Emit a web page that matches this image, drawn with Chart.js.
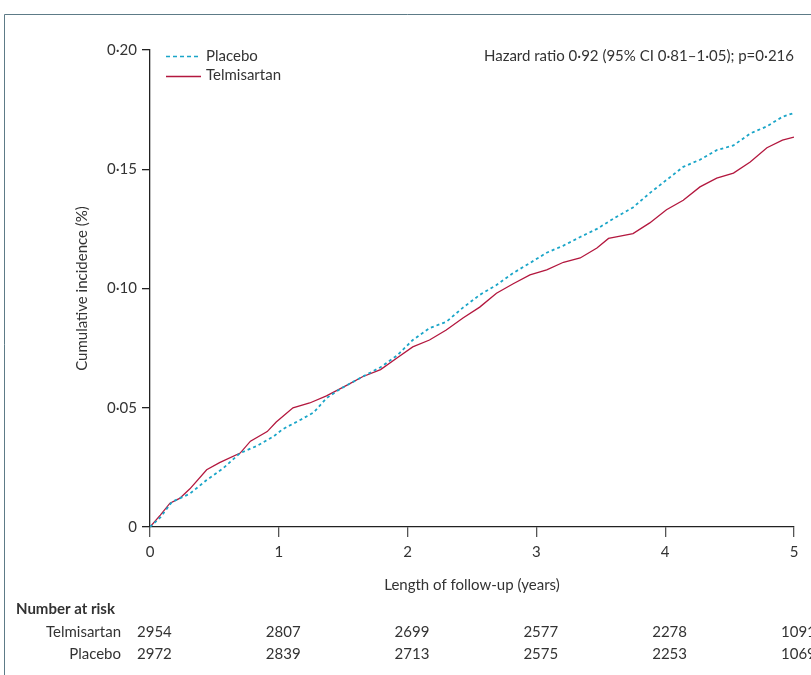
<!DOCTYPE html>
<html>
<head>
<meta charset="utf-8">
<script src="https://cdn.jsdelivr.net/npm/chart.js@4.4.0/dist/chart.umd.min.js"></script>
<style>
  html, body { margin: 0; padding: 0; background: #fff; }
  #wrap { width: 811px; height: 675px; }
</style>
</head>
<body>
<div id="wrap"><canvas id="chartCanvas"></canvas></div>
<script>
// Values
var telmiTimes = [0, 0.08, 0.155, 0.23, 0.31, 0.44, 0.54, 0.70, 0.78, 0.91, 0.98, 1.11, 1.24, 1.37, 1.53, 1.65, 1.79, 1.92, 2.04, 2.17, 2.30, 2.43, 2.56, 2.69, 2.82, 2.95, 3.08, 3.21, 3.34, 3.47, 3.56, 3.62, 3.75, 3.88, 4.01, 4.14, 4.27, 4.40, 4.53, 4.66, 4.79, 4.91, 5.0];
var telmiValues = [0, 0.005, 0.010, 0.012, 0.016, 0.024, 0.027, 0.031, 0.036, 0.040, 0.044, 0.050, 0.052, 0.055, 0.0595, 0.063, 0.066, 0.071, 0.0755, 0.0784, 0.0826, 0.0876, 0.0922, 0.098, 0.102, 0.1057, 0.1078, 0.111, 0.1128, 0.117, 0.121, 0.1216, 0.123, 0.1275, 0.133, 0.137, 0.1426, 0.1463, 0.1484, 0.153, 0.159, 0.1622, 0.1635];

var placeboTimes = [0, 0.08, 0.17, 0.31, 0.44, 0.57, 0.70, 0.83, 0.96, 1.03, 1.17, 1.27, 1.37, 1.48, 1.65, 1.79, 1.92, 2.04, 2.17, 2.30, 2.43, 2.56, 2.69, 2.82, 2.95, 3.08, 3.21, 3.34, 3.47, 3.62, 3.75, 3.88, 4.01, 4.14, 4.27, 4.40, 4.53, 4.66, 4.79, 4.91, 5.0];
var placeboValues = [0, 0.004, 0.0105, 0.014, 0.0197, 0.0247, 0.031, 0.034, 0.038, 0.041, 0.045, 0.048, 0.054, 0.058, 0.063, 0.067, 0.072, 0.0784, 0.0834, 0.086, 0.092, 0.0973, 0.1015, 0.1065, 0.1107, 0.115, 0.118, 0.1216, 0.125, 0.130, 0.134, 0.140, 0.1455, 0.151, 0.154, 0.158, 0.160, 0.165, 0.168, 0.172, 0.1736];

var riskYears = [0, 1, 2, 3, 4, 5];
var riskTelmisartan = [2954, 2807, 2699, 2577, 2278, 1091];
var riskPlacebo = [2972, 2839, 2713, 2575, 2253, 1069];

var hazardText = "Hazard ratio 0\u00b792 (95% CI 0\u00b781\u20131\u00b705); p=0\u00b7216";
var xTitle = "Length of follow-up (years)";
var yTitle = "Cumulative incidence (%)";

var FONT = "Lato, 'Open Sans', sans-serif";
var FS = 15;
var TEXT = "#333";
var CYAN = "#1aa5c8";
var RED = "#b3173e";

function toPoints(xs, ys) {
  var pts = [];
  for (var i = 0; i < xs.length; i++) pts.push({ x: xs[i], y: ys[i] });
  return pts;
}

// Frame, titles, legend, hazard ratio and number-at-risk table
var extras = {
  id: "extras",
  afterDraw: function(chart) {
    var ctx = chart.ctx;
    var xs = chart.scales.x;
    var area = chart.chartArea;
    ctx.save();

    // outer frame (top and left)
    ctx.strokeStyle = "#5d7b87";
    ctx.lineWidth = 1;
    ctx.beginPath();
    ctx.moveTo(4.5, 675);
    ctx.lineTo(4.5, 14.5);
    ctx.lineTo(811, 14.5);
    ctx.stroke();

    // legend
    ctx.lineWidth = 1.5;
    ctx.strokeStyle = CYAN;
    ctx.setLineDash([4, 3]);
    ctx.beginPath();
    ctx.moveTo(166, 56.5);
    ctx.lineTo(201, 56.5);
    ctx.stroke();
    ctx.setLineDash([]);
    ctx.strokeStyle = RED;
    ctx.beginPath();
    ctx.moveTo(166, 76.5);
    ctx.lineTo(201, 76.5);
    ctx.stroke();

    ctx.fillStyle = TEXT;
    ctx.font = FS + "px " + FONT;
    ctx.textBaseline = "middle";
    ctx.textAlign = "left";
    ctx.fillText("Placebo", 206, 56);
    ctx.fillText("Telmisartan", 206, 75);

    ctx.textAlign = "right";
    ctx.fillText(hazardText, 794, 56);

    // axis titles
    ctx.textAlign = "center";
    ctx.fillText(xTitle, 472, 585);
    ctx.save();
    ctx.translate(82, (area.top + area.bottom) / 2);
    ctx.rotate(-Math.PI / 2);
    ctx.fillText(yTitle, 0, 0);
    ctx.restore();

    // number at risk
    ctx.textAlign = "left";
    ctx.font = "bold " + FS + "px " + FONT;
    ctx.fillText("Number at risk", 16, 609);
    ctx.font = FS + "px " + FONT;
    ctx.textAlign = "right";
    ctx.fillText("Telmisartan", 121, 632);
    ctx.fillText("Placebo", 121, 654);
    ctx.textAlign = "left";
    for (var i = 0; i < riskYears.length; i++) {
      var px = xs.getPixelForValue(riskYears[i]) - 13;
      ctx.fillText(String(riskTelmisartan[i]), px, 632);
      ctx.fillText(String(riskPlacebo[i]), px, 654);
    }
    ctx.restore();
  }
};

var chart = new Chart(document.getElementById("chartCanvas"), {
  type: "line",
  data: {
    datasets: [{
      label: "Placebo",
      data: toPoints(placeboTimes, placeboValues),
      borderColor: CYAN,
      borderWidth: 1.8,
      borderDash: [3, 3],
      pointRadius: 0,
      tension: 0,
      fill: false
    }, {
      label: "Telmisartan",
      data: toPoints(telmiTimes, telmiValues),
      borderColor: RED,
      borderWidth: 1.3,
      pointRadius: 0,
      tension: 0,
      fill: false
    }]
  },
  options: {
    responsive: true,
    maintainAspectRatio: false,
    animation: false,
    layout: { padding: { left: 0, top: 50, right: 17, bottom: 0 } },
    plugins: {
      legend: { display: false },
      tooltip: { enabled: false }
    },
    scales: {
      x: {
        type: "linear",
        min: 0,
        max: 5,
        afterFit: function(s) { s.height = 148; },
        border: { display: true, color: "#222", width: 1.3 },
        grid: { drawOnChartArea: false, drawTicks: true, tickLength: 10, color: "#555", lineWidth: 1.3 },
        ticks: {
          stepSize: 1,
          padding: 6,
          color: TEXT,
          font: { family: FONT, size: FS }
        }
      },
      y: {
        min: 0,
        max: 0.2,
        afterFit: function(s) { s.width = 150; },
        border: { display: true, color: "#222", width: 1.3 },
        grid: { drawOnChartArea: false, drawTicks: true, tickLength: 8, color: "#222", lineWidth: 1.3 },
        ticks: {
          stepSize: 0.05,
          padding: 5,
          color: TEXT,
          font: { family: FONT, size: FS },
          callback: function(v) {
            if (v === 0) return "0";
            return v.toFixed(2).replace(".", "\u00b7");
          }
        }
      }
    }
  },
  plugins: [extras]
});
</script>
</body>
</html>
